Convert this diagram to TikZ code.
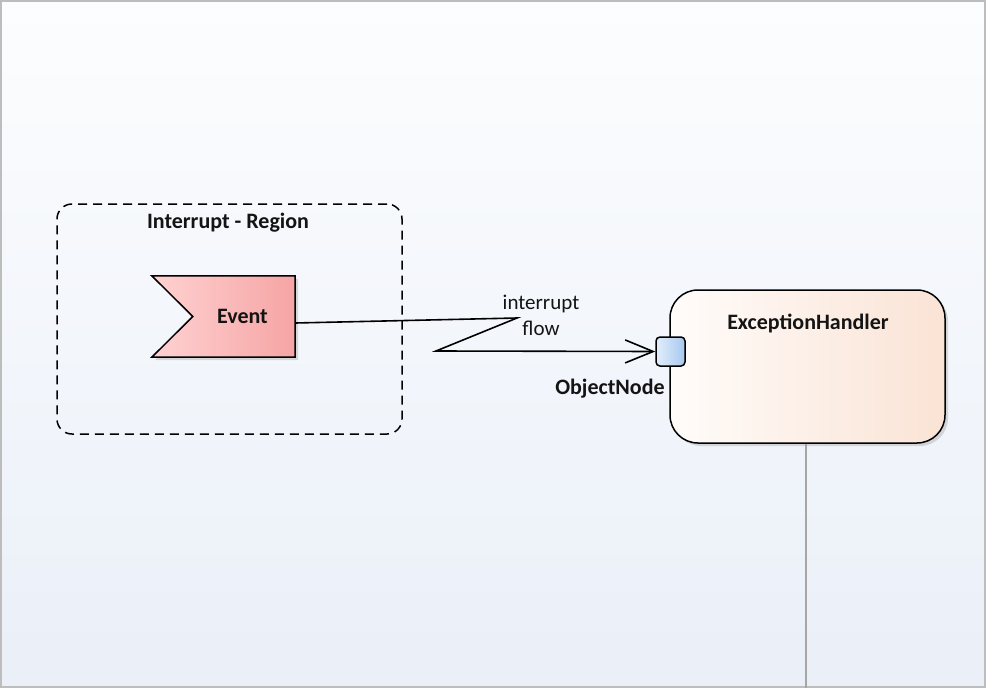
\documentclass[tikz,border=0pt]{standalone}
\usepackage{fontspec}
\setmainfont{Carlito}
\usetikzlibrary{arrows.meta,calc,shadows}
\definecolor{bgtop}{HTML}{FCFDFE}
\definecolor{bgbot}{HTML}{EAEFF8}
\definecolor{frame}{HTML}{BDBDBD}
\definecolor{evL}{HTML}{FFD2D2}
\definecolor{evR}{HTML}{F6A4A4}
\definecolor{ehL}{HTML}{FFFCFA}
\definecolor{ehR}{HTML}{FAE3D5}
\definecolor{pinL}{HTML}{E2EEFB}
\definecolor{pinR}{HTML}{A7C8EE}
\definecolor{txt}{HTML}{141414}
\definecolor{life}{HTML}{A6A6A6}
\tikzset{
  shd/.style={drop shadow={shadow xshift=3pt,shadow yshift=-3pt,opacity=0.22,fill=black!60}},
  boldlbl/.style={font=\fontsize{22}{26}\selectfont\bfseries,text=txt,inner sep=0pt},
  plainlbl/.style={font=\fontsize{21}{26}\selectfont,text=txt,inner sep=0pt,align=center},
  edge/.style={draw=black,line width=1.6pt},
}
\begin{document}
\begin{tikzpicture}[x=1pt,y=-1pt]
% background and frame
\shade[top color=bgtop,bottom color=bgbot] (0,0) rectangle (986,688);
\draw[frame,line width=2pt] (1,1) rectangle (985,687);
\useasboundingbox (0,0) rectangle (986,688);

% interruptible region
\node[draw=black,dashed,dash pattern=on 9pt off 6pt,line width=1.5pt,rounded corners=15pt,
      minimum width=345pt,minimum height=230pt,inner sep=0pt] (region) at (229.5,319) {};
\node[boldlbl] (regionlbl) at (228,223) {Interrupt - Region};

% event (accept event action)
\node[minimum width=143pt,minimum height=81pt,inner sep=0pt] (event) at (223.5,316.5) {};
\path[shd,draw=black,line width=1.5pt,left color=evL,right color=evR]
  (event.north west) -- (event.north east) -- (event.south east) -- (event.south west)
  -- ($(event.west)+(41,0)$) -- cycle;
\node[boldlbl] (eventlbl) at ($(event.center)+(19,0)$) {Event};

% exception handler
\node[shd,draw=black,line width=1.5pt,rounded corners=28pt,left color=ehL,right color=ehR,
      minimum width=275pt,minimum height=153pt,inner sep=0pt] (eh) at (807.5,366.5) {};
\node[boldlbl] (ehlbl) at (808,323) {ExceptionHandler};

% lifeline below handler
\coordinate (bot) at (806,688);
\draw[life,line width=2pt] (eh.south -| bot) -- (bot);

% object node pin
\node[draw=black,line width=1.5pt,rounded corners=4pt,left color=pinL,right color=pinR,
      minimum width=29pt,minimum height=29pt,inner sep=0pt] (pin) at (670.5,351.5) {};
\node[boldlbl] (pinlbl) at (610,389) {ObjectNode};

% interrupt flow (lightning)
\coordinate (fstart) at ($(event.east)+(0,6.5)$);
\coordinate (b1) at (517,318);
\coordinate (b2) at (436,351);
\draw[edge,-{Straight Barb[length=28pt,width=23pt,line width=1.6pt]}]
  (fstart) -- (b1) -- (b2) -- (pin.west);
\node[plainlbl] (flowlbl) at (541,315) {interrupt\\flow};
\end{tikzpicture}
\end{document}
